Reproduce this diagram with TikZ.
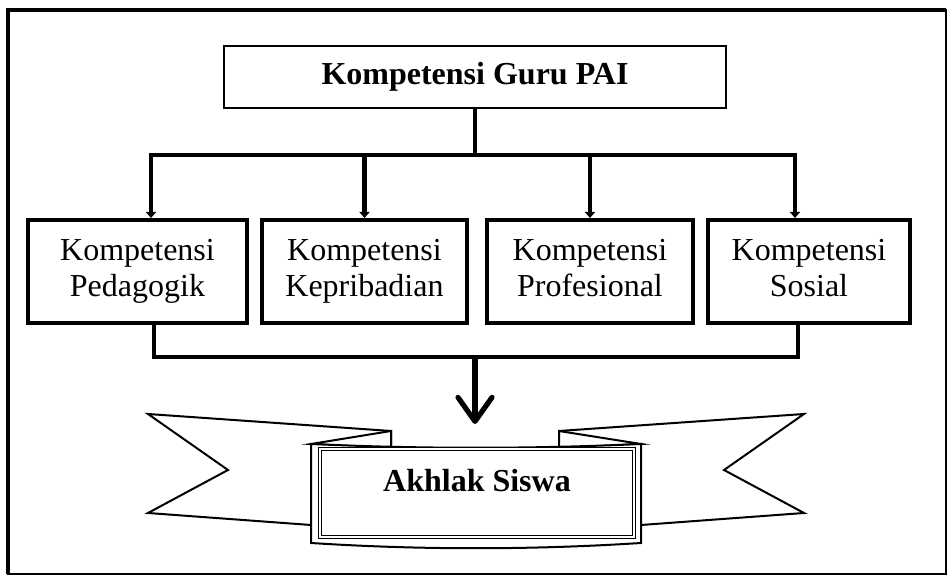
\documentclass[tikz,border=0pt]{standalone}
\usepackage{fontspec}
\setmainfont{Liberation Serif}
\usetikzlibrary{arrows.meta,positioning}
\tikzset{
    kompetensi/.style={
        draw=black,
        fill=white,
        line width=2pt,
        minimum height=51.5pt,
        inner sep=0pt,
        text depth=3.6pt,
        align=center,
        font=\fontsize{16}{18.3}\selectfont
    },
    judul/.style={
        draw=black,
        fill=white,
        line width=1pt,
        minimum width=251pt,
        minimum height=31pt,
        inner sep=0pt,
        font=\fontsize{16}{18.3}\selectfont\bfseries
    },
    hasil/.style={
        draw=black,
        double,
        double distance=1.2pt,
        line width=0.5pt,
        minimum width=157pt,
        minimum height=44pt,
        inner sep=0pt,
        text depth=13pt,
        font=\fontsize{16}{18.3}\selectfont\bfseries
    },
    cabang/.style={
        draw=black,
        line width=2.4pt
    },
    cabangarrow/.style={
        cabang,
        -{Triangle[length=3pt,width=5pt]}
    },
    hasilarrow/.style={
        draw=black,
        line width=2.6pt,
        -{Straight Barb[length=12pt,width=17pt,round]}
    },
    pita/.style={
        draw=black,
        fill=white,
        line width=1pt
    }
}
\begin{document}
\begin{tikzpicture}[x=0.5pt,y=-0.5pt]
    \useasboundingbox (0,0) rectangle (950,577);
    % bingkai luar
    \draw[line width=0.6pt] (8,10) rectangle (946,574);
    \draw[line width=2.4pt] (8,574) -- (8,10) -- (946,10);

    \node[judul] (guru) at (475,77) {Kompetensi Guru PAI};
    \node[kompetensi,minimum width=109.5pt] (ped) at (137.5,271.5)
        {Kompetensi\\Pedagogik};
    \node[kompetensi,minimum width=102.5pt] (kep) at (364.5,271.5)
        {Kompetensi\\Kepribadian};
    \node[kompetensi,minimum width=103pt] (pro) at (590,271.5)
        {Kompetensi\\Profesional};
    \node[kompetensi,minimum width=101pt] (sos) at (809,271.5)
        {Kompetensi\\Sosial};
    \coordinate (atas) at (475,155);
    \coordinate (bawah) at (475,357);
    \coordinate (ujung) at (475,424);

    \draw[cabang] (guru.south) -- (atas);
    \draw[cabangarrow] (atas) -| ([xshift=6.75pt]ped.north);
    \draw[cabangarrow] (atas) -| ([xshift=-7pt]sos.north);
    \draw[cabangarrow] (kep.north |- atas) -- (kep.north);
    \draw[cabangarrow] (pro.north |- atas) -- (pro.north);
    \draw[cabang] ([xshift=8.25pt]ped.south) |- (bawah)
        -| ([xshift=-5.5pt]sos.south);
    \draw[hasilarrow] (bawah) -- (ujung);

    % pita
    \filldraw[pita] (148,414) -- (391,431) -- (391,525) -- (311,525)
        -- (148,513) -- (228,470) -- cycle;
    \filldraw[pita] (311,444) -- (391,431) -- (391,448) -- cycle;
    \filldraw[pita] (804,414) -- (559,431) -- (559,525) -- (641,525)
        -- (804,513) -- (724,470) -- cycle;
    \filldraw[pita] (641,444) -- (559,431) -- (559,448) -- cycle;
    \filldraw[pita] (311,444) .. controls (420,449) and (531,449) .. (641,444)
        -- (641,543) .. controls (531,550) and (420,550) .. (311,543) -- cycle;
    \node[hasil] (akhlak) at (477,493) {Akhlak Siswa};
\end{tikzpicture}
\end{document}
